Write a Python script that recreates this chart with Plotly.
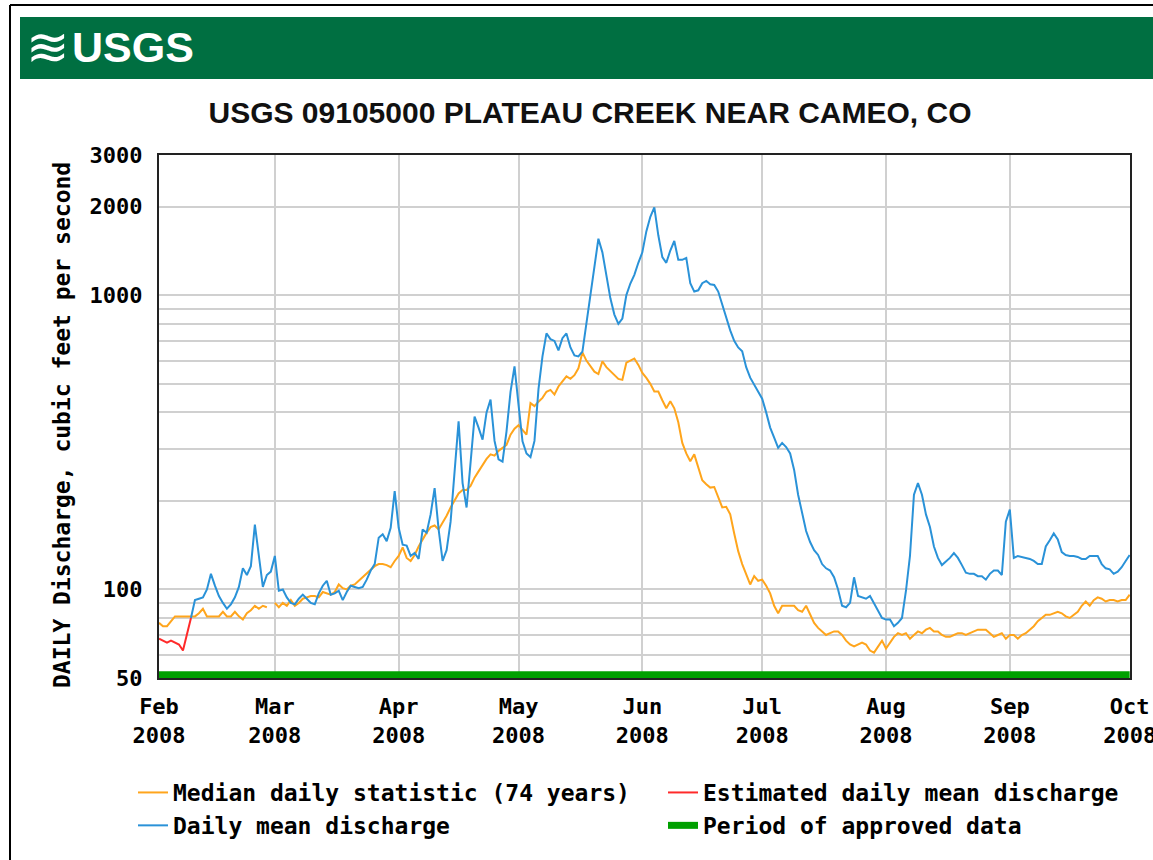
import pandas as pd
import plotly.graph_objects as go

# ---------------- data ----------------
# Estimated daily mean discharge (red), from Feb 1
red_start = "2008-02-01"
red_values = [68, 67, 66, 67, 66, 65, 62, 70, 80]

# Daily mean discharge (blue), month by month
blue_feb_start = "2008-02-09"
blue_feb = [80, 92, 93, 94, 100, 113, 103, 95, 90, 86, 89, 94, 102, 118, 112, 120, 166, 127, 102, 112, 115]
blue_mar = [130, 99, 100, 94, 90, 89, 93, 96, 93, 90, 89, 97, 103, 107, 96, 97, 99, 92, 98, 103,
            102, 101, 102, 108, 116, 122, 150, 154, 146, 162, 216]
blue_apr = [162, 142, 141, 130, 133, 127, 160, 156, 180, 221, 160, 125, 136, 170, 255, 373, 230, 190, 270, 387,
            355, 323, 400, 442, 320, 277, 272, 345, 470, 573]
blue_may = [425, 319, 290, 282, 320, 480, 620, 742, 710, 700, 650, 715, 742, 665, 625, 620, 644, 800, 1030, 1267,
            1558, 1400, 1174, 977, 860, 800, 834, 1002, 1097, 1174, 1290]
blue_jun = [1400, 1650, 1850, 1990, 1600, 1350, 1290, 1420, 1530, 1320, 1320, 1340, 1100, 1030, 1040, 1100, 1120,
            1090, 1085, 1030, 930, 830, 760, 700, 665, 645, 570, 525, 497, 470]
blue_jul = [445, 400, 355, 328, 303, 315, 305, 290, 255, 210, 180, 158, 145, 136, 131, 122, 118, 116, 110, 100,
            88, 87, 90, 110, 95, 94, 93, 95, 90, 85, 80]
blue_aug = [79, 79, 75, 77, 80, 99, 130, 210, 230, 210, 180, 163, 140, 128, 121, 124, 128, 133, 128, 121,
            114, 113, 113, 111, 111, 108, 113, 116, 116, 112, 170]
blue_sep = [187, 128, 130, 129, 128, 127, 125, 122, 122, 140, 147, 155, 148, 134, 131, 130, 130, 129, 127, 127,
            130, 130, 130, 122, 118, 117, 113, 115, 119, 125]
blue_oct = [131]

# Median daily statistic (orange); no statistic for Feb 29
orange_feb = [77, 75, 75, 78, 81, 81, 81, 81, 81, 81, 83, 86, 81, 81, 81, 81, 84, 81, 81, 84,
              81, 79, 83, 85, 88, 86, 88, 87, None]
orange_mar = [90, 87, 90, 88, 92, 88, 90, 93, 94, 95, 95, 94, 98, 97, 96, 98, 104, 101, 100, 103,
              104, 107, 110, 113, 116, 120, 122, 122, 121, 119, 125]
orange_apr = [130, 139, 128, 125, 131, 140, 148, 156, 163, 165, 160, 168, 178, 190, 200, 212, 218, 218, 225, 240,
              252, 265, 278, 288, 285, 296, 302, 310, 336, 352]
orange_may = [362, 350, 336, 430, 420, 435, 448, 470, 477, 460, 490, 510, 530, 520, 535, 565, 640, 600, 575, 550,
              540, 597, 570, 552, 535, 520, 516, 590, 600, 610, 580]
orange_jun = [545, 524, 500, 471, 471, 440, 413, 436, 413, 370, 315, 290, 273, 288, 260, 235, 228, 222, 223, 205,
              190, 191, 180, 155, 135, 122, 112, 104, 111, 107]
orange_jul = [108, 103, 97, 88, 83, 88, 88, 88, 88, 85, 84, 88, 82, 77, 74, 72, 70, 71, 72, 72,
              70, 67, 65, 64, 65, 66, 65, 62, 61, 64, 67]
orange_aug = [63, 66, 69, 71, 70, 71, 68, 70, 72, 71, 73, 74, 72, 72, 70, 69, 69, 70, 71, 71,
              70, 71, 72, 73, 73, 73, 71, 69, 70, 71, 68]
orange_sep = [70, 70, 68, 70, 71, 73, 75, 78, 80, 82, 82, 83, 84, 83, 81, 80, 82, 84, 88, 91,
              88, 92, 94, 93, 91, 92, 92, 91, 92, 92]
orange_oct = [96]

# Period of approved data
approved_dates = ["2008-02-01", "2008-10-01"]
approved_level = [51.3, 51.3]

# Axis ticks
month_ticks = ["2008-02-01", "2008-03-01", "2008-04-01", "2008-05-01", "2008-06-01",
               "2008-07-01", "2008-08-01", "2008-09-01", "2008-10-01"]
month_labels = ["Feb<br>2008", "Mar<br>2008", "Apr<br>2008", "May<br>2008", "Jun<br>2008",
                "Jul<br>2008", "Aug<br>2008", "Sep<br>2008", "Oct<br>2008"]
y_tick_values = [50, 60, 70, 80, 90, 100, 200, 300, 400, 500, 600, 700, 800, 900, 1000, 2000, 3000]
y_tick_labels = ["50", "", "", "", "", "100", "", "", "", "", "", "", "", "", "1000", "2000", "3000"]


def build(parts):
    xs, ys = [], []
    for start, vals in parts:
        xs += list(pd.date_range(start, periods=len(vals), freq="D"))
        ys += list(vals)
    return xs, ys


blue_x, blue_y = build([(blue_feb_start, blue_feb), ("2008-03-01", blue_mar), ("2008-04-01", blue_apr),
                        ("2008-05-01", blue_may), ("2008-06-01", blue_jun), ("2008-07-01", blue_jul),
                        ("2008-08-01", blue_aug), ("2008-09-01", blue_sep), ("2008-10-01", blue_oct)])
orange_x, orange_y = build([("2008-02-01", orange_feb), ("2008-03-01", orange_mar), ("2008-04-01", orange_apr),
                            ("2008-05-01", orange_may), ("2008-06-01", orange_jun), ("2008-07-01", orange_jul),
                            ("2008-08-01", orange_aug), ("2008-09-01", orange_sep), ("2008-10-01", orange_oct)])
red_x, red_y = build([(red_start, red_values)])

# ---------------- layout geometry ----------------
W, H = 1153, 860
L, R, T, B = 159, 1130, 155, 678


def px(xp):
    return (xp - L) / (R - L)


def py(yp):
    return (B - yp) / (B - T)


MONO = "DejaVu Sans Mono"
SANS = "Liberation Sans, Arial, sans-serif"

fig = go.Figure()
fig.add_trace(go.Scatter(x=approved_dates, y=approved_level, mode="lines",
                         line=dict(color="#00A000", width=7), name="Period of approved data",
                         legend="legend2", legendrank=2, hoverinfo="skip"))
fig.add_trace(go.Scatter(x=orange_x, y=orange_y, mode="lines", connectgaps=False,
                         line=dict(color="#FFA51C", width=2), name="Median daily statistic (74 years)",
                         legend="legend", legendrank=1))
fig.add_trace(go.Scatter(x=blue_x, y=blue_y, mode="lines",
                         line=dict(color="#2A92D8", width=2), name="Daily mean discharge",
                         legend="legend", legendrank=2))
fig.add_trace(go.Scatter(x=red_x, y=red_y, mode="lines",
                         line=dict(color="#FF2A2A", width=2), name="Estimated daily mean discharge",
                         legend="legend2", legendrank=1))

legend_common = dict(orientation="v", xanchor="left", yanchor="top", bgcolor="rgba(0,0,0,0)",
                     font=dict(family=MONO, size=23, color="black", weight="bold"),
                     tracegroupgap=0, itemwidth=30)

fig.update_layout(
    width=W, height=H, autosize=False,
    template="none",
    paper_bgcolor="white", plot_bgcolor="white",
    margin=dict(l=L, r=W - R, t=T, b=H - B, autoexpand=False),
    title=dict(text="<b>USGS 09105000 PLATEAU CREEK NEAR CAMEO, CO</b>",
               font=dict(family=SANS, size=30, color="#111111"),
               x=590 / W, xanchor="center", xref="container",
               y=1 - 112 / H, yanchor="middle", yref="container"),
    showlegend=True,
    legend=dict(x=px(133), y=py(771), **legend_common),
    legend2=dict(x=px(663), y=py(771), **legend_common),
    xaxis=dict(type="date", range=["2008-02-01", "2008-10-01 02:00"],
               tickvals=month_ticks, ticktext=month_labels, tickangle=0,
               ticklabeloverflow="allow",
               showgrid=True, gridcolor="#d0d0d0", gridwidth=2,
               showline=True, linecolor="#222222", linewidth=2, mirror=True,
               ticks="", ticklabelstandoff=8, zeroline=False,
               tickfont=dict(family=MONO, size=22, color="black", weight="bold")),
    yaxis=dict(type="log", range=[1.69897, 3.47712],
               tickvals=y_tick_values, ticktext=y_tick_labels,
               showgrid=True, gridcolor="#d0d0d0", gridwidth=2,
               showline=True, linecolor="#222222", linewidth=2, mirror=True,
               ticks="", ticklabelstandoff=10, zeroline=False,
               tickfont=dict(family=MONO, size=22, color="black", weight="bold")),
    shapes=[
        # green USGS banner
        dict(type="rect", xref="paper", yref="paper", x0=px(20), x1=px(1170), y0=py(79), y1=py(17),
             fillcolor="#006F41", line=dict(width=0), layer="below"),
        # outer frame
        dict(type="line", xref="paper", yref="paper", x0=px(10), x1=px(10), y0=py(5), y1=py(880),
             line=dict(color="black", width=2)),
        dict(type="line", xref="paper", yref="paper", x0=px(10), x1=px(1170), y0=py(5), y1=py(5),
             line=dict(color="black", width=2)),
    ],
    annotations=[
        dict(text="≋", xref="paper", yref="paper", x=px(48), y=py(47), xanchor="center", yanchor="middle",
             showarrow=False, font=dict(family="DejaVu Sans", size=52, color="white")),
        dict(text="<b>USGS</b>", xref="paper", yref="paper", x=px(70), y=py(47), xanchor="left",
             yanchor="middle", showarrow=False, font=dict(family=SANS, size=43, color="white")),
        dict(text="DAILY Discharge, cubic feet per second", xref="paper", yref="paper",
             x=px(62), y=py(425), xanchor="center", yanchor="middle", textangle=-90, showarrow=False,
             font=dict(family=MONO, size=23, color="black", weight="bold")),
    ],
)

fig.write_html("out.html", config={"displayModeBar": False},
               post_script="document.body.style.margin='0';document.body.style.overflow='hidden';")
